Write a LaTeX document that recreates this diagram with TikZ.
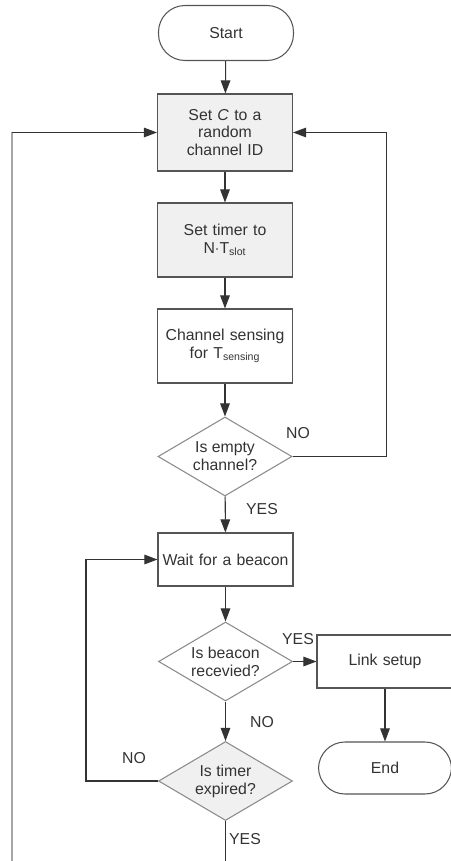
\documentclass[tikz,border=0pt]{standalone}
\usepackage{fontspec}
\setmainfont{Liberation Sans}
\usetikzlibrary{shapes.geometric,arrows.meta}

\definecolor{boxfill}{HTML}{F0F0F0}
\definecolor{lineclr}{HTML}{333333}
\definecolor{boxline}{HTML}{555555}
\definecolor{dialine}{HTML}{8A8A8A}

\begin{document}
\begin{tikzpicture}[x=0.02cm, y=-0.02cm, line width=0.6pt,
    every node/.style={font=\fontsize{9}{10.2}\selectfont, text=lineclr},
    term node/.style={rectangle, rounded corners=0.53cm, draw=boxline, minimum width=2.7cm, minimum height=1.1cm},
    proc node/.style={rectangle, draw=boxline, align=center, text width=2.5cm, minimum width=2.7cm, inner sep=0pt},
    test node/.style={diamond, draw=dialine, align=center, aspect=1.7, inner sep=0pt, minimum width=2.68cm, minimum height=1.58cm},
    arr/.style={draw=lineclr, -{Triangle[length=7.5pt,width=5.5pt]}},
    lbl/.style={inner sep=0pt}]

  \useasboundingbox (0,0) rectangle (450,861);

  \node[term node] (start) at (226,33) {Start};
  \node[proc node, fill=boxfill, minimum height=1.54cm] (chan) at (225,132.5) {Set \textit{C} to a\\random\\channel ID};
  \node[proc node, fill=boxfill, minimum height=1.48cm] (timer) at (225,240) {Set timer to\\N$\cdot$T\textsubscript{slot}};
  \node[proc node, minimum height=1.48cm] (sense) at (225,346) {Channel sensing\\for T\textsubscript{sensing}};
  \node[test node] (empty) at (225,456.5) {Is empty\\channel?};
  \node[proc node, text width=2.66cm, minimum height=1.06cm] (wait) at (225.5,559.5) {Wait for a beacon};
  \node[test node] (beacon) at (225.5,661.5) {Is beacon\\recevied?};
  \node[test node, fill=boxfill] (expired) at (225.5,781) {Is timer\\expired?};
  \node[proc node, minimum height=1.06cm, minimum width=2.72cm] (link) at (385,661.5) {Link setup};
  \node[term node, minimum width=2.66cm, minimum height=1.04cm] (end) at (385,768) {End};

  \node[lbl] (no1) at (298,433) {NO};
  \node[lbl] (yes1) at (262,509) {YES};
  \node[lbl] (yes2) at (298,639) {YES};
  \node[lbl] (no2) at (262,722) {NO};
  \node[lbl] (no3) at (134,758) {NO};
  \node[lbl] (yes3) at (245,839) {YES};

  \coordinate (corner) at (12,132.5);
  \coordinate (bottom) at (12,870);
  \coordinate (out) at (225.5,870);

  \path (start) edge[arr] (chan)
        (chan) edge[arr] (timer)
        (timer) edge[arr] (sense)
        (sense) edge[arr] (empty)
        (empty) edge[arr] (wait)
        (wait) edge[arr] (beacon)
        (beacon) edge[arr] (link)
        (beacon) edge[arr] (expired)
        (link) edge[arr] (end);

  \draw[arr] (empty.east) -| ++(94,0) |- (chan.east);
  \draw[arr] (expired.west) -| ++(-72,0) |- (wait.west);
  \draw[lineclr] (expired.south) -- (out);
  \draw[draw=black!35, line width=1.1pt] (bottom) -- (corner);
  \draw[arr] (corner) -- (chan.west);
\end{tikzpicture}
\end{document}
